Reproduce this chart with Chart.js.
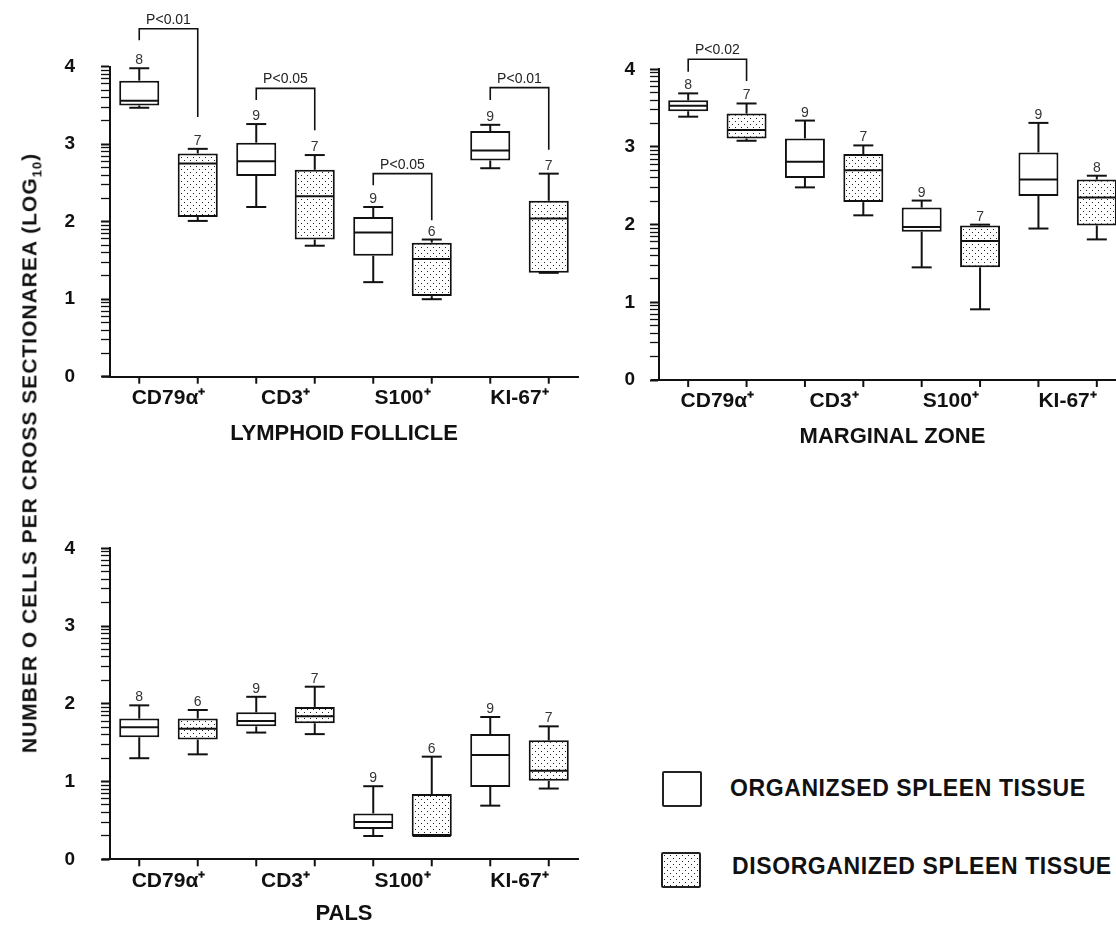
<!DOCTYPE html>
<html><head><meta charset="utf-8">
<script src="https://cdn.jsdelivr.net/npm/chart.js@4.4.1/dist/chart.umd.min.js"></script>
<style>
html,body{margin:0;padding:0;background:#fff;width:1116px;height:927px;overflow:hidden;position:relative;font-family:"Liberation Sans",Arial,sans-serif;}
canvas{position:absolute;}
#ytitle{position:absolute;left:31px;top:453px;transform:translate(-50%,-50%) rotate(-90deg);white-space:nowrap;font-weight:bold;font-size:21px;letter-spacing:1px;color:#111;}
#ytitle sub{font-size:13px;}
.lbox{position:absolute;width:40px;height:36px;box-sizing:border-box;border:2px solid #222;border-radius:2px;background:#fff;}
.ltxt{position:absolute;font-weight:bold;font-size:23px;color:#111;white-space:nowrap;line-height:23px;letter-spacing:0.6px;}
</style></head><body>
<canvas id="c1" width="600" height="447" style="left:0;top:0"></canvas>
<canvas id="c2" width="566" height="450" style="left:560px;top:0"></canvas>
<canvas id="c3" width="600" height="447" style="left:0;top:480px"></canvas>
<div id="ytitle">NUMBER O CELLS PER CROSS SECTIONAREA (LOG<sub>10</sub>)</div>
<div class="lbox" style="left:662px;top:771px"></div>
<div class="ltxt" style="left:730px;top:777px">ORGANIZSED SPLEEN TISSUE</div>
<div class="lbox" id="lpat" style="left:661px;top:852px"></div>
<div class="ltxt" style="left:732px;top:855px">DISORGANIZED SPLEEN TISSUE</div>
<script>
// ---- categories and group labels ----
const CATEGORIES = ['CD79\u03b1\u207a', 'CD3\u207a', 'S100\u207a', 'KI-67\u207a'];
const GROUPS = ['ORGANIZSED SPLEEN TISSUE', 'DISORGANIZED SPLEEN TISSUE'];
const Y_TICKS = [0, 1, 2, 3, 4];

// ---- Lymphoid follicle: [min, q1, median, q3, max] per category ----
const LF_ORG = [[3.47, 3.50, 3.56, 3.82, 3.98], [2.19, 2.59, 2.78, 3.02, 3.26], [1.22, 1.56, 1.86, 2.06, 2.19], [2.69, 2.79, 2.92, 3.17, 3.25]];
const LF_ORG_N = [8, 9, 9, 9];
const LF_DIS = [[2.01, 2.06, 2.75, 2.88, 2.94], [1.69, 1.77, 2.33, 2.67, 2.86], [1.00, 1.04, 1.52, 1.73, 1.77], [1.34, 1.34, 2.04, 2.27, 2.62]];
const LF_DIS_N = [7, 7, 6, 7];
const LF_P_TEXT = ['P<0.01', 'P<0.05', 'P<0.05', 'P<0.01'];
const LF_P_LEVEL = [[4.49, 4.34, 3.35], [3.72, 3.57, 3.18], [2.62, 2.47, 2.02], [3.73, 3.57, 2.93]];

// ---- Marginal zone ----
const MZ_ORG = [[3.39, 3.46, 3.53, 3.60, 3.69], [2.48, 2.60, 2.81, 3.11, 3.34], [1.45, 1.91, 1.97, 2.22, 2.31], [1.95, 2.37, 2.58, 2.93, 3.31]];
const MZ_ORG_N = [8, 9, 9, 9];
const MZ_DIS = [[3.08, 3.11, 3.22, 3.43, 3.56], [2.12, 2.29, 2.70, 2.91, 3.02], [0.91, 1.45, 1.79, 1.99, 2.00], [1.81, 1.99, 2.35, 2.58, 2.63]];
const MZ_DIS_N = [7, 7, 7, 8];
const MZ_P_TEXT = ['P<0.02', '', '', ''];
const MZ_P_LEVEL = [[4.13, 3.97, 3.85], null, null, null];

// ---- PALS ----
const PALS_ORG = [[1.30, 1.57, 1.70, 1.81, 1.98], [1.63, 1.71, 1.78, 1.89, 2.09], [0.30, 0.39, 0.48, 0.59, 0.94], [0.69, 0.93, 1.34, 1.61, 1.83]];
const PALS_ORG_N = [8, 9, 9, 9];
const PALS_DIS = [[1.35, 1.54, 1.68, 1.81, 1.92], [1.61, 1.75, 1.84, 1.96, 2.22], [0.30, 0.30, 0.30, 0.84, 1.32], [0.91, 1.01, 1.14, 1.53, 1.71]];
const PALS_DIS_N = [6, 7, 6, 7];

const FONT = "'Liberation Sans', Arial, sans-serif";
const INK = '#111';

function makeTile() {
  const c = document.createElement('canvas'); c.width = 6; c.height = 6;
  const g = c.getContext('2d');
  g.fillStyle = '#fff'; g.fillRect(0, 0, 6, 6);
  g.fillStyle = '#222'; g.fillRect(1, 1, 1, 1); g.fillRect(4, 4, 1, 1);
  return c;
}
const tile = makeTile();
document.getElementById('lpat').style.backgroundImage = 'url(' + tile.toDataURL() + ')';

function makeChart(id, org, orgN, dis, disN, pText, pLevel, title, L) {
  const canvas = document.getElementById(id);
  const ctx0 = canvas.getContext('2d');
  const pattern = ctx0.createPattern(tile, 'repeat');
  const extras = {
    id: 'boxExtras',
    afterDatasetsDraw(chart) {
      const ctx = chart.ctx, y = chart.scales.y, ca = chart.chartArea;
      const stats = [org, dis], ns = [orgN, disN];
      ctx.save();
      ctx.strokeStyle = INK; ctx.lineWidth = 2; ctx.lineCap = 'butt';
      const line = (x1, y1, x2, y2) => { ctx.beginPath(); ctx.moveTo(x1, y1); ctx.lineTo(x2, y2); ctx.stroke(); };
      line(ca.left - 8, ca.bottom, ca.left, ca.bottom);
      for (let d = 0; d < 2; d++) {
        const meta = chart.getDatasetMeta(d);
        meta.data.forEach((el, i) => {
          const s = stats[d][i];
          const cx = el.x, hw = el.width / 2;
          const p = s.map(v => y.getPixelForValue(v));
          line(cx, p[3], cx, p[4]);
          line(cx, p[1], cx, p[0]);
          line(cx - 10, p[4], cx + 10, p[4]);
          line(cx - 10, p[0], cx + 10, p[0]);
          line(cx - hw + 1, p[2], cx + hw - 1, p[2]);
          line(cx, ca.bottom, cx, ca.bottom + 7);
          ctx.fillStyle = '#333';
          ctx.font = '14px ' + FONT;
          ctx.textAlign = 'center'; ctx.textBaseline = 'alphabetic';
          ctx.fillText(String(ns[d][i]), cx, p[4] - 4);
        });
      }
      if (pText) {
        const m0 = chart.getDatasetMeta(0), m1 = chart.getDatasetMeta(1);
        pText.forEach((t, i) => {
          if (!t || !pLevel[i]) return;
          const xl = m0.data[i].x, xr = m1.data[i].x;
          const yb = y.getPixelForValue(pLevel[i][0]);
          const yl = y.getPixelForValue(pLevel[i][1]);
          const yr = y.getPixelForValue(pLevel[i][2]);
          ctx.lineWidth = 1.6;
          ctx.beginPath(); ctx.moveTo(xl, yl); ctx.lineTo(xl, yb); ctx.lineTo(xr, yb); ctx.lineTo(xr, yr); ctx.stroke();
          ctx.fillStyle = '#222'; ctx.font = '14px ' + FONT;
          ctx.textAlign = 'center'; ctx.textBaseline = 'alphabetic';
          ctx.fillText(t, (xl + xr) / 2, yb - 5);
        });
      }
      ctx.restore();
    }
  };
  return new Chart(canvas, {
    type: 'bar',
    data: {
      labels: CATEGORIES,
      datasets: [
        { label: GROUPS[0], data: org.map(s => [s[1], s[3]]), backgroundColor: '#fff', borderColor: INK, borderWidth: 2, borderSkipped: false, categoryPercentage: 1, barPercentage: 0.685 },
        { label: GROUPS[1], data: dis.map(s => [s[1], s[3]]), backgroundColor: pattern, borderColor: INK, borderWidth: 2, borderSkipped: false, categoryPercentage: 1, barPercentage: 0.685 }
      ]
    },
    options: {
      responsive: false, animation: false, devicePixelRatio: 1,
      layout: { padding: { top: L.top, right: L.right, left: 0, bottom: 0 } },
      plugins: { legend: { display: false }, tooltip: { enabled: false } },
      scales: {
        x: {
          type: 'category', offset: true,
          grid: { display: true, drawOnChartArea: false, drawTicks: false },
          border: { display: true, color: INK, width: 2 },
          ticks: { color: INK, padding: L.xPad, font: { family: FONT, size: 21, weight: 'bold' }, maxRotation: 0, autoSkip: false },
          title: { display: true, text: title, color: INK, font: { family: FONT, size: 22, weight: 'bold' }, padding: { top: 0, bottom: 0 } },
          afterFit: s => { s.height = L.xH; }
        },
        y: {
          type: 'linear', min: 0, max: 4,
          afterBuildTicks: s => {
            const t = [];
            for (let i = 0; i < Y_TICKS.length - 1; i++) {
              t.push({ value: Y_TICKS[i] });
              for (let k = 2; k < 10; k++) t.push({ value: Y_TICKS[i] + Math.log10(k) });
            }
            t.push({ value: Y_TICKS[Y_TICKS.length - 1] });
            s.ticks = t;
          },
          grid: { display: true, drawOnChartArea: false, drawTicks: true, tickLength: 9, color: INK,
                  tickWidth: c => (c.tick && Math.abs(c.tick.value - Math.round(c.tick.value)) < 1e-6) ? 2 : 1.3 },
          border: { display: true, color: INK, width: 2 },
          ticks: { autoSkip: false, color: INK, padding: L.yPad, font: { family: FONT, size: 19, weight: 'bold' },
                   callback: v => Math.abs(v - Math.round(v)) < 1e-6 ? String(Math.round(v)) : '' },
          afterFit: s => { s.width = L.yW; }
        }
      }
    },
    plugins: [extras]
  });
}

makeChart('c1', LF_ORG, LF_ORG_N, LF_DIS, LF_DIS_N, LF_P_TEXT, LF_P_LEVEL, 'LYMPHOID FOLLICLE',
  { top: 66.7, right: 22, xH: 70.3, yW: 110, yPad: 26, xPad: 9 });
makeChart('c2', MZ_ORG, MZ_ORG_N, MZ_DIS, MZ_DIS_N, MZ_P_TEXT, MZ_P_LEVEL, 'MARGINAL ZONE',
  { top: 69.3, right: 0, xH: 70, yW: 99, yPad: 15, xPad: 9 });
makeChart('c3', PALS_ORG, PALS_ORG_N, PALS_DIS, PALS_DIS_N, null, null, 'PALS',
  { top: 68.3, right: 22, xH: 67.7, yW: 110, yPad: 26, xPad: 9 });
</script>
</body></html>
